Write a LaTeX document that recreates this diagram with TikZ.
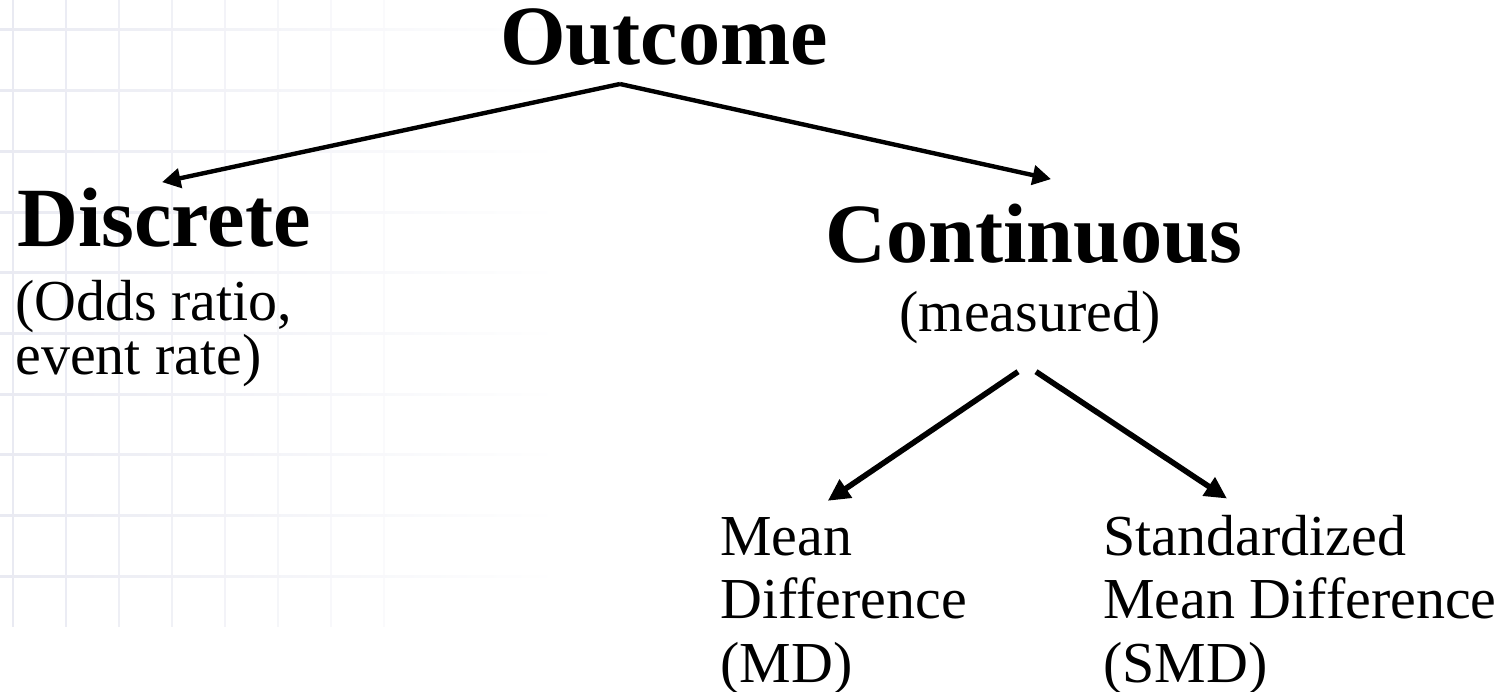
\documentclass[tikz,border=0pt]{standalone}
\usepackage{fontspec}
\setmainfont{Liberation Serif}
\usetikzlibrary{arrows.meta,calc}
\definecolor{gridline}{RGB}{233,234,242}

\begin{document}
\begin{tikzpicture}[x=0.02cm,y=-0.02cm]

% node style definition
\tikzstyle{head} = [inner sep=0pt, font=\fontsize{48}{56}\selectfont\bfseries];
\tikzstyle{sub} = [inner sep=0pt, align=left, font=\fontsize{33}{29.6}\selectfont];
\tikzstyle{leaf} = [inner sep=0pt, align=left, font=\fontsize{33}{36.1}\selectfont];
\tikzstyle{arr} = [-{Triangle[length=10.5pt,width=11pt]}, line width=2.5pt];
\tikzstyle{arrlow} = [-{Triangle[length=12.5pt,width=12pt]}, line width=3.2pt];

\useasboundingbox (0,0) rectangle (1507,692);

% faint grid in the background
\foreach \i [evaluate=\i as \op using 100-11*\i] in {0,...,7}
	\draw[gridline!\op, line width=1.1pt] (13+53*\i,0) -- (13+53*\i,627);
\foreach \j in {0,...,9}
	\shade[left color=gridline, right color=white] (0,30+60.7*\j-1) rectangle (560,30+60.7*\j+1);

% base of a multi-line node is its last line
\node[head,anchor=base] (outc) at (664,65) {Outcome};
\node[head,anchor=base west] (disc) at (17,247) {Discrete};
\node[sub,anchor=base west] (odds) at (15,375) {(Odds ratio,\\event rate)};
\node[head,anchor=base] (cont) at (1034,263) {Continuous};
\node[leaf,anchor=base] (meas) at (1030,332) {(measured)};
\node[leaf,anchor=base west] (md) at (720,682) {Mean\\Difference\\(MD)};
\node[leaf,anchor=base west] (smd) at (1103,682) {Standardized\\Mean Difference\\(SMD)};

\coordinate (fork) at (620,84);
\draw[arr] (fork) -- ($(disc.north)+(-2,-6)$);
\draw[arr] (fork) -- ($(cont.north)+(17,-25)$);
\draw[arrlow] ($(meas.south)+(-12,27)$) -- ($(md.north)+(-16,-16)$);
\draw[arrlow] ($(meas.south)+(6,27)$) -- ($(smd.north)+(-73,-16)$);

\end{tikzpicture}
\end{document}
